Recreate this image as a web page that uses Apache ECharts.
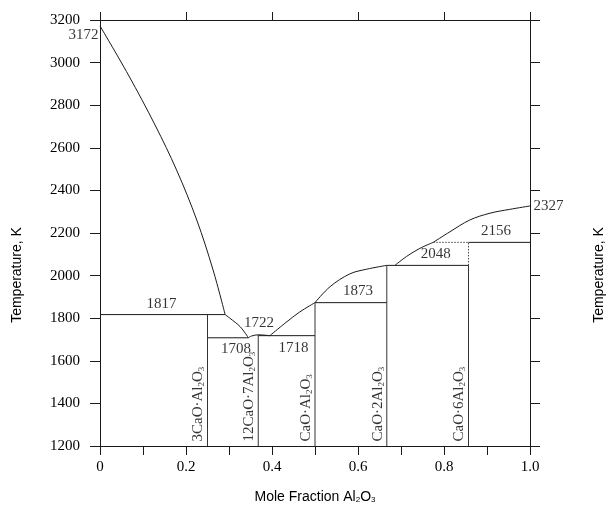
<!DOCTYPE html>
<html>
<head>
<meta charset="utf-8">
<script src="https://cdn.jsdelivr.net/npm/echarts@6/dist/echarts.min.js"></script>
<style>
  html, body { margin: 0; padding: 0; background: #fff; }
  #chart { width: 607px; height: 513px; }
</style>
</head>
<body>
<div id="chart"></div>
<script>
// CaO–Al2O3 binary phase diagram (temperature in K vs. mole fraction Al2O3)

const xTickLabels = ['0', '0.2', '0.4', '0.6', '0.8', '1.0'];

// melting points of the pure oxides
const tMeltCaO = 3172;
const tMeltAl2O3 = 2327;

// invariant / melting temperatures
const tPeritecticC3A = 1817;
const tEutectic1 = 1708;
const tMeltC12A7 = 1722;
const tEutectic2 = 1718;
const tCA = 1873;
const tCA2 = 2048;
const tCA6 = 2156;

// liquidus branches: [mole fraction Al2O3, T (K)]
const liquidusCaO = [[0, 3172], [0.066, 2942], [0.128, 2707], [0.178, 2496], [0.225, 2261], [0.263, 2026], [0.291, 1817]];
const liquidusC3A = [[0.291, 1817], [0.302, 1800], [0.326, 1760], [0.345, 1708]];
const liquidusC12A7 = [[0.345, 1708], [0.352, 1716], [0.368, 1722], [0.395, 1718]];
const liquidusCA = [[0.395, 1718], [0.43, 1776], [0.465, 1830], [0.5, 1873]];
const liquidusCA2 = [[0.5, 1873], [0.535, 1948], [0.581, 2008], [0.62, 2030], [0.667, 2048]];
const liquidusCA6 = [[0.686, 2048], [0.713, 2090], [0.744, 2128], [0.775, 2156]];
const liquidusAl2O3 = [[0.775, 2156], [0.814, 2206], [0.86, 2261], [0.907, 2293], [0.953, 2311], [1, 2327]];

// horizontal invariant lines: [x start, x end, T]
const invariantLines = [[0, 0.291, 1817], [0.25, 0.345, 1708], [0.368, 0.5, 1718], [0.5, 0.667, 1873], [0.667, 0.857, 2048], [0.857, 1, 2156]];
// dotted two-phase boundaries around CaO·6Al2O3
const dottedLines = [[[0.775, 2156], [0.857, 2156]], [[0.857, 2048], [0.857, 2156]]];

// intermediate compounds
const compounds = ['3CaO·Al₂O₃', '12CaO·7Al₂O₃', 'CaO·Al₂O₃', 'CaO·2Al₂O₃', 'CaO·6Al₂O₃'];
const compoundX = [0.25, 0.368, 0.5, 0.667, 0.857];
const compoundTop = [1817, 1722, 1873, 2048, 2048];

const INK = '#1a1a1a';
const SERIF = '"Liberation Serif", "DejaVu Serif", serif';
const SANS = '"Liberation Sans", Arial, sans-serif';

// turn unicode subscripts into rich-text tokens
function sub(str) {
  return str.replace(/₂/g, '{s|2}').replace(/₃/g, '{s|3}');
}

function lineSeries(data, extra) {
  return Object.assign({
    type: 'line',
    data: data,
    showSymbol: false,
    symbol: 'none',
    silent: true,
    clip: false,
    lineStyle: { color: INK, width: 1 },
    z: 3
  }, extra || {});
}

const series = [];

[liquidusCaO, liquidusC3A, liquidusC12A7, liquidusCA, liquidusCA2, liquidusCA6, liquidusAl2O3].forEach(function (d) {
  series.push(lineSeries(d, { smooth: 0.35 }));
});

invariantLines.forEach(function (l) {
  series.push(lineSeries([[l[0], l[2]], [l[1], l[2]]]));
});

dottedLines.forEach(function (d) {
  series.push(lineSeries(d, { lineStyle: { color: '#444', width: 1, type: [1.5, 1.5] } }));
});

compoundX.forEach(function (x, i) {
  series.push(lineSeries([[x, 1200], [x, compoundTop[i]]], { lineStyle: { color: '#333', width: 1 } }));
});

// compound names, written upward along each compound line
const richSerif = {
  s: { fontFamily: SERIF, fontSize: 9, color: '#000', verticalAlign: 'bottom', lineHeight: 10 }
};
series.push({
  type: 'scatter',
  silent: true,
  clip: false,
  symbolSize: 1,
  itemStyle: { color: 'transparent' },
  data: compoundX.map(function (x, i) { return { value: [x, 1200], name: compounds[i] }; }),
  label: {
    show: true,
    rotate: 90,
    position: [-8.5, -4],
    align: 'left',
    verticalAlign: 'middle',
    color: '#000',
    fontFamily: SERIF,
    fontSize: 15,
    lineHeight: 16,
    formatter: function (p) { return sub(p.name); },
    rich: richSerif
  },
  z: 4
});

// temperature annotations
function tempLabel(x, t, pos, dist, extra) {
  return {
    value: [x, t],
    label: Object.assign({ position: pos, distance: dist }, extra || {})
  };
}
series.push({
  type: 'scatter',
  silent: true,
  clip: false,
  symbolSize: 1,
  itemStyle: { color: 'transparent' },
  data: [
    tempLabel(0, tMeltCaO, [-1, 2], 0, { align: 'right', verticalAlign: 'top' }),
    tempLabel(0.143, tPeritecticC3A, 'top', 3),
    tempLabel(0.316, tEutectic1, 'bottom', 3),
    tempLabel(0.37, tMeltC12A7, 'top', 4),
    tempLabel(0.45, tEutectic2, 'bottom', 4),
    tempLabel(0.6, tCA, 'top', 4),
    tempLabel(0.781, tCA2, 'top', 3),
    tempLabel(0.921, tCA6, 'top', 3),
    tempLabel(1, tMeltAl2O3, 'right', 3)
  ],
  label: {
    show: true,
    color: '#000',
    fontFamily: SERIF,
    fontSize: 15,
    formatter: function (p) { return String(p.value[1]); }
  },
  z: 4
});

const axisLineStyle = { color: INK, width: 1 };

const option = {
  backgroundColor: '#fff',
  animation: false,
  grid: { left: 100, right: 77, top: 20, bottom: 67, containLabel: false },
  xAxis: [
    {
      type: 'value', position: 'bottom', min: 0, max: 1, interval: 0.1,
      axisLine: { show: true, onZero: false, lineStyle: axisLineStyle },
      axisTick: { show: true, inside: false, length: 9, lineStyle: axisLineStyle },
      axisLabel: {
        margin: 14, color: '#000', fontFamily: SERIF, fontSize: 15,
        showMinLabel: true, showMaxLabel: true,
        formatter: function (v) {
          const k = Math.round(v * 10);
          return k % 2 === 0 ? xTickLabels[k / 2] : '';
        }
      },
      splitLine: { show: false },
      name: sub('Mole Fraction Al₂O₃'),
      nameLocation: 'middle',
      nameGap: 44,
      nameTextStyle: {
        color: '#000', fontFamily: SANS, fontSize: 14,
        rich: { s: { fontFamily: SANS, fontSize: 8, color: '#000', verticalAlign: 'bottom', lineHeight: 9 } }
      }
    },
    {
      type: 'value', position: 'top', min: 0, max: 1, interval: 0.2,
      axisLine: { show: true, onZero: false, lineStyle: axisLineStyle },
      axisTick: { show: true, inside: false, length: 8, lineStyle: axisLineStyle },
      axisLabel: { show: false },
      splitLine: { show: false }
    }
  ],
  yAxis: [
    {
      type: 'value', position: 'left', min: 1200, max: 3200, interval: 200,
      axisLine: { show: true, onZero: false, lineStyle: axisLineStyle },
      axisTick: { show: true, inside: false, length: 10, lineStyle: axisLineStyle },
      axisLabel: {
        margin: 20, color: '#000', fontFamily: SERIF, fontSize: 15,
        formatter: function (v) { return String(v); }
      },
      splitLine: { show: false }
    },
    {
      type: 'value', position: 'right', min: 1200, max: 3200, interval: 200,
      axisLine: { show: true, onZero: false, lineStyle: axisLineStyle },
      axisTick: { show: true, inside: false, length: 10, lineStyle: axisLineStyle },
      axisLabel: { show: false },
      splitLine: { show: false }
    }
  ],
  graphic: [
    {
      type: 'text', x: 17, y: 275, rotation: Math.PI / 2,
      style: { text: 'Temperature, K', fill: '#000', font: '14px ' + SANS, align: 'center', verticalAlign: 'middle' }
    },
    {
      type: 'text', x: 599, y: 275, rotation: Math.PI / 2,
      style: { text: 'Temperature, K', fill: '#000', font: '14px ' + SANS, align: 'center', verticalAlign: 'middle' }
    }
  ],
  series: series
};

const chart = echarts.init(document.getElementById('chart'), null, { renderer: 'canvas' });
chart.setOption(option);
</script>
</body>
</html>
